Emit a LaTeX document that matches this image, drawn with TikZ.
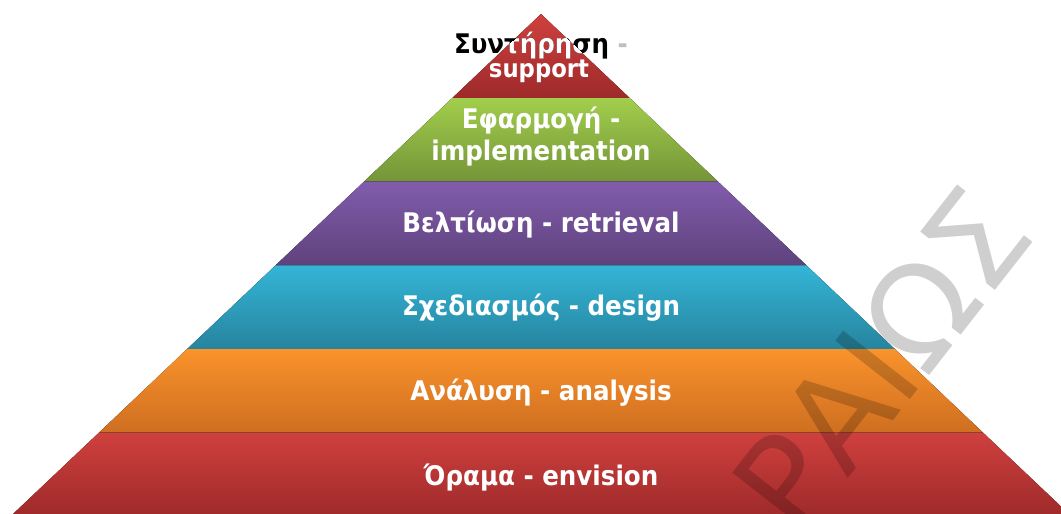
\documentclass[tikz,border=0pt]{standalone}
\usepackage{fontspec}
\newfontfamily\lblfont{DejaVu Sans}[FakeStretch=0.91]
\newfontfamily\wmfont{DejaVu Sans}
\definecolor{redA}{RGB}{207,64,62}
\definecolor{redB}{RGB}{158,42,42}
\definecolor{grnA}{RGB}{162,206,76}
\definecolor{grnB}{RGB}{116,148,56}
\definecolor{purA}{RGB}{129,92,172}
\definecolor{purB}{RGB}{94,66,124}
\definecolor{bluA}{RGB}{52,181,215}
\definecolor{bluB}{RGB}{38,132,158}
\definecolor{orgA}{RGB}{250,147,44}
\definecolor{orgB}{RGB}{206,110,32}
\tikzset{
  lbl/.style={text=white, font=\lblfont\bfseries\fontsize{27}{32}\selectfont, inner sep=0, anchor=base},
  wmark/.style={font=\wmfont\fontsize{130}{130}\selectfont, text=black, text opacity=0.19, inner sep=0, rotate=52}
}
\begin{document}
\begin{tikzpicture}[x=1pt,y=-1pt]
\useasboundingbox (0,0) rectangle (1061,514);
% layers
\fill[top color=redA, bottom color=redB] (541,14) -- (629.7,98) -- (452.3,98) -- cycle;
\fill[top color=grnA, bottom color=grnB] (452.3,98) -- (629.7,98) -- (718.1,181.7) -- (363.9,181.7) -- cycle;
\fill[top color=purA, bottom color=purB] (363.9,181.7) -- (718.1,181.7) -- (806.4,265.3) -- (275.6,265.3) -- cycle;
\fill[top color=bluA, bottom color=bluB] (275.6,265.3) -- (806.4,265.3) -- (894.8,349) -- (187.2,349) -- cycle;
\fill[top color=orgA, bottom color=orgB] (187.2,349) -- (894.8,349) -- (983.1,432.7) -- (98.9,432.7) -- cycle;
\fill[top color=redA, bottom color=redB] (98.9,432.7) -- (983.1,432.7) -- (1071.4,516.3) -- (10.6,516.3) -- cycle;
% top label: dark outside the triangle, white inside
\node[lbl, text=black] (topA) at (541,53) {Συντήρηση\ \textcolor{black!25}{-}};
\begin{scope}
  \clip (541,14) -- (629.7,98) -- (452.3,98) -- cycle;
  \node[lbl] (topB) at (541,53) {Συντήρηση\ -};
\end{scope}
\node[lbl, font=\lblfont\bfseries\fontsize{25}{30}\selectfont] (topC) at (539,77) {support};
% labels
\node[lbl] (impA) at (541,128) {Εφαρμογή -};
\node[lbl] (impB) at (541,160) {implementation};
\node[lbl] (ret) at (541,232) {Βελτίωση - retrieval};
\node[lbl] (des) at (541,315) {Σχεδιασμός - design};
\node[lbl] (ana) at (541,400) {Ανάλυση - analysis};
\node[lbl] (env) at (541,485) {Όραμα - envision};
% watermark
\node[wmark] (wm) at (881,359) {ΡΑΙΩΣ};
\end{tikzpicture}
\end{document}
